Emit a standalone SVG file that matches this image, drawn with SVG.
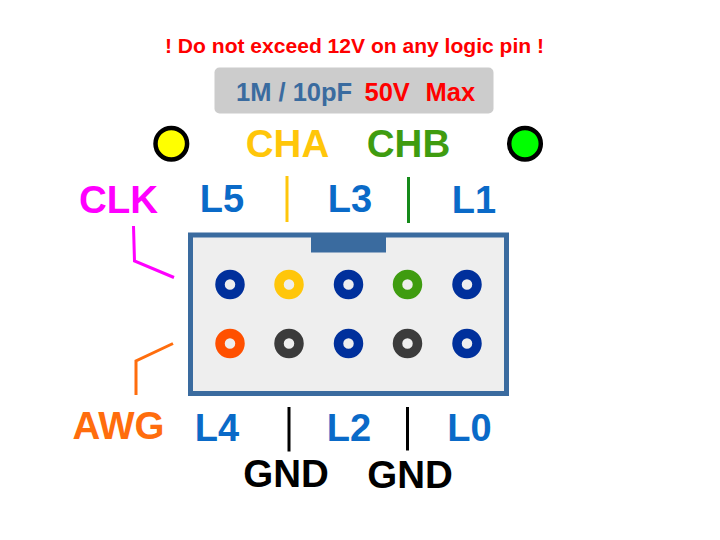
<svg xmlns="http://www.w3.org/2000/svg" width="720" height="540" viewBox="0 0 720 540">
<style>
text{font-family:"Liberation Sans",Arial,sans-serif;font-weight:bold}
.l{font-size:38px;fill:#0a6ac8}
.big{font-size:38.500px}
.c{fill:none;stroke-width:3}
.p{fill:#eeeeee;stroke-width:9.500}
.led{stroke:#000;stroke-width:4.500}
</style>
<rect width="720" height="540" fill="#fff"/>
<g id="warning"><text x="354.500" y="53" font-size="20" text-anchor="middle" fill="#ff0000" textLength="379" lengthAdjust="spacingAndGlyphs">! Do not exceed 12V on any logic pin !</text></g>
<g id="range">
<rect x="214.500" y="67.500" width="279" height="46" rx="5" fill="#cccccc"/>
<text x="236" y="101" font-size="25.500" fill="#3a6b9f">1M / 10pF</text>
<text x="364.500" y="101" font-size="25.500" fill="#ff0000">50V</text>
<text x="425.500" y="101" font-size="25.500" fill="#ff0000">Max</text>
</g>
<g id="led-yellow"><circle cx="171.300" cy="143.700" r="15.800" fill="#ffff00" class="led"/></g>
<g id="led-green"><circle cx="525" cy="143.700" r="15.800" fill="#00ff00" class="led"/></g>
<g id="cha"><text x="287.500" y="157" class="big" text-anchor="middle" fill="#ffc60a">CHA</text></g>
<g id="chb"><text x="408.500" y="157" class="big" text-anchor="middle" fill="#3f9c10">CHB</text></g>
<g id="clk"><text x="118.500" y="213" class="big" text-anchor="middle" fill="#ff00ff">CLK</text></g>
<g id="awg"><text x="118.500" y="439" class="big" text-anchor="middle" fill="#ff6d0d">AWG</text></g>
<g id="l5"><text x="222" y="212" class="l" text-anchor="middle">L5</text></g>
<g id="l3"><text x="350" y="212" class="l" text-anchor="middle">L3</text></g>
<g id="l1"><text x="474" y="213" class="l" text-anchor="middle">L1</text></g>
<g id="l4"><text x="217" y="440.500" class="l" text-anchor="middle">L4</text></g>
<g id="l2"><text x="349" y="441" class="l" text-anchor="middle">L2</text></g>
<g id="l0"><text x="469.500" y="441" class="l" text-anchor="middle">L0</text></g>
<g id="gnd1"><text x="286" y="487" class="big" text-anchor="middle" fill="#000">GND</text></g>
<g id="gnd2"><text x="410" y="488" class="big" text-anchor="middle" fill="#000">GND</text></g>
<g id="connector">
<rect x="190.500" y="235" width="316" height="158.500" fill="#eeeeee" stroke="#3a6b9f" stroke-width="5"/>
<rect x="311" y="235" width="75" height="17.500" fill="#3a6b9f"/>
<g class="p">
<circle cx="230" cy="284.500" r="10" stroke="#00309c"/>
<circle cx="289" cy="284.500" r="10" stroke="#ffc60a"/>
<circle cx="348.500" cy="284.500" r="10" stroke="#00309c"/>
<circle cx="407.500" cy="284.500" r="10" stroke="#3f9c10"/>
<circle cx="467" cy="284.500" r="10" stroke="#00309c"/>
<circle cx="230" cy="343.500" r="10" stroke="#ff5000"/>
<circle cx="289" cy="343.500" r="10" stroke="#3b3b3b"/>
<circle cx="348.500" cy="343.500" r="10" stroke="#00309c"/>
<circle cx="407.500" cy="343.500" r="10" stroke="#3b3b3b"/>
<circle cx="467" cy="343.500" r="10" stroke="#00309c"/>
</g>
</g>
<g id="connectors">
<path class="c" stroke="#ffc60a" d="M287 176V222"/>
<path class="c" stroke="#158a1a" d="M408.500 177V223"/>
<path class="c" stroke="#ff00ff" d="M133.500 226L134.500 261L174 277.500"/>
<path class="c" stroke="#ff6d0d" d="M173 343.500L136 361V395"/>
<path class="c" stroke="#000" d="M289 407V451.500"/>
<path class="c" stroke="#000" d="M407.500 407V450.500"/>
</g>
</svg>
